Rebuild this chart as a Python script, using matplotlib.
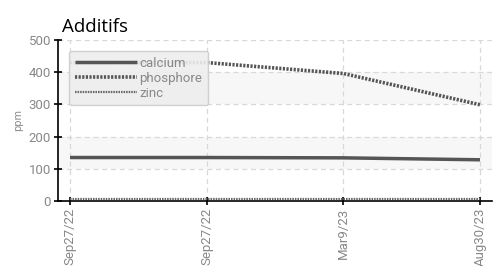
import matplotlib
matplotlib.use('Agg')
import matplotlib.pyplot as plt
from matplotlib import font_manager

dates = ['Sep27/22', 'Sep27/22', 'Mar9/23', 'Aug30/23']
calcium = [135, 135, 134, 128]
phosphore = [430, 430, 396, 299]
zinc = [6, 6, 6, 6]
y_ticks = [0, 100, 200, 300, 400, 500]

names = {f.name for f in font_manager.fontManager.ttflist}
tick_font = 'Liberation Sans Narrow' if 'Liberation Sans Narrow' in names else 'Roboto'

fig = plt.figure(figsize=(5, 2.66), dpi=100)
ax = fig.add_axes([0.116, 0.2444, 0.868, 0.6052])

x = list(range(len(dates)))

# alternating bands
for lo, hi in [(100, 200), (300, 400)]:
    ax.axhspan(lo, hi, color='#f7f7f7', zorder=0, lw=0)

ax.plot(x, calcium, color='#555555', lw=2.5, solid_capstyle='butt', label='calcium', zorder=3)
ax.plot(x, phosphore, color='#555555', lw=2.6, ls=(0, (0.6, 0.4)), label='phosphore', zorder=3)
ax.plot(x, zinc, color='#666666', lw=1.6, ls=(0, (0.7, 0.45)), label='zinc', zorder=3)

ax.set_xlim(-0.088, 3.088)
ax.set_ylim(0, 500)
ax.set_yticks(y_ticks)
ax.set_xticks(x)
ax.set_xticklabels(dates, rotation=90)

ax.grid(True, color='#d8d8d8', ls=(0, (4, 3)), lw=0.9, zorder=1)
for s in ['top', 'right']:
    ax.spines[s].set_visible(False)
for s in ['left', 'bottom']:
    ax.spines[s].set_color('black')
    ax.spines[s].set_linewidth(1.2)
ax.tick_params(direction='inout', length=6, width=1.2, color='black',
               labelcolor='#888888', labelsize=9.5, pad=2)
for lab in ax.get_xticklabels() + ax.get_yticklabels():
    lab.set_family(tick_font)

ax.set_ylabel('ppm', fontsize=7, color='#888888', labelpad=4)
ax.set_title('Additifs', fontsize=13.5, loc='left', x=0.01, pad=6, family='Open Sans')

leg = ax.legend(loc='upper left', bbox_to_anchor=(0.01, 0.975), frameon=True, fancybox=True,
                handlelength=4.7, handletextpad=0.2, borderpad=0.45, labelspacing=0.15,
                prop={'family': tick_font, 'size': 9.5})
leg.get_frame().set_facecolor('#eeeeee')
leg.get_frame().set_edgecolor('#cccccc')
leg.get_frame().set_alpha(0.9)
for t in leg.get_texts():
    t.set_color('#888888')

fig.savefig('out.png', dpi=100)
